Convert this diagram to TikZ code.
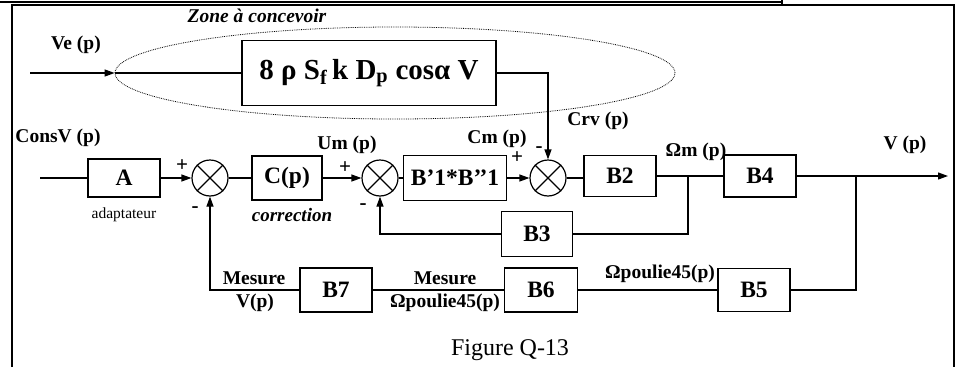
\documentclass[tikz,border=0pt]{standalone}
\usepackage{fontspec}
\setmainfont{Liberation Serif}
\usetikzlibrary{arrows.meta,shapes.geometric}

\begin{document}
\begin{tikzpicture}[x=1pt,y=-1pt,line width=1.2pt,
  blk/.style={draw,minimum width=72pt,minimum height=42pt,inner sep=2pt,
    font=\fontsize{23.5}{26}\selectfont\bfseries},
  sum/.style={draw,circle,minimum size=36pt,inner sep=0pt},
  lbl/.style={font=\fontsize{19.5}{22}\selectfont\bfseries,inner sep=0pt},
  sig/.style={font=\fontsize{21}{21}\selectfont\bfseries,inner sep=0pt},
  arr/.style={-{Triangle[length=10pt,width=7pt]}}]
\useasboundingbox (0,0) rectangle (961,367);
% frame of the table cell
\draw[line width=2pt] (0,2) -- (782,2);
\draw (782,0) -- (782,5);
\draw[line width=1.6pt] (12,367) -- (12,5) -- (954,5) -- (954,367);
% zone to design
\node[font=\fontsize{19.5}{22}\selectfont\bfseries\itshape] at (257,16) {Zone à concevoir};
\node[draw,ellipse,densely dotted,line width=0.8pt,minimum width=560pt,
  minimum height=92pt] (zone) at (395,73) {};
\node[blk,minimum width=254pt,minimum height=65pt,font=\fontsize{29}{32}\selectfont\bfseries]
  (gain) at (369,73) {8 ρ S\textsubscript{f}\,k D\textsubscript{p} cosα V};
\coordinate (vin) at (30,73);
\node[lbl] at (76,45) {Ve (p)};
\draw[arr] (vin) -- (zone.west);
\draw (zone.west) -- (gain.west);
% direct chain
\coordinate (cin) at (40,178);
\node[blk,minimum height=38pt] (a) at (124,178) {A};
\node[sum] (s1) at (210,178) {};
\node[blk,minimum width=70pt,minimum height=44pt] (c) at (287,178) {C(p)};
\node[sum] (s2) at (380,178) {};
\node[blk,minimum width=103pt,minimum height=45pt] (bp) at (455,178) {B’1*B’’1};
\node[sum] (s3) at (548,178) {};
\node[blk,minimum height=41pt] (b2) at (620,176) {B2};
\node[blk] (b4) at (760,176) {B4};
\coordinate (j1) at (688,176);
\coordinate (j2) at (856,176);
\coordinate (vout) at (948,176);
\foreach \s in {s1,s2,s3}
  \draw (\s.45) -- (\s.225) (\s.135) -- (\s.315);
\draw (cin) -- (a);
\draw[arr] (a) -- (s1);
\draw (s1) -- (c);
\draw[arr] (c) -- (s2);
\draw (s2) -- (bp);
\draw[arr] (bp) -- (s3);
\draw (s3.east) -- (b2.west |- s3.east);
\draw (b2) -- (b4);
\draw[arr] (b4) -- (vout);
\draw[arr] (gain.east) -| (s3.north);
% inner loop
\node[blk,minimum width=71pt,minimum height=45pt] (b3) at (537,234) {B3};
\draw (j1) |- (b3.east);
\draw[arr] (b3.west) -| (s2.south);
% outer loop
\node[blk,minimum height=43pt] (b5) at (754,290) {B5};
\node[blk,minimum width=73pt,minimum height=44pt] (b6) at (541,290) {B6};
\node[blk,minimum height=44pt] (b7) at (336,290) {B7};
\draw (j2) |- (b5.east);
\draw (b5) -- (b6);
\draw (b6) -- (b7);
\draw[arr] (b7.west) -| (s1.south);
% labels
\node[lbl] at (58,138) {ConsV (p)};
\node[font=\fontsize{15.5}{17}\selectfont] at (124,215) {adaptateur};
\node[font=\fontsize{19}{21}\selectfont\bfseries\itshape] at (292,215) {correction};
\node[sig] at (182,166) {+};
\node[sig] at (195,210) {-};
\node[lbl] at (347,145) {Um (p)};
\node[sig] at (345,168) {+};
\node[sig] at (363,207) {-};
\node[lbl] at (497,139) {Cm (p)};
\node[sig] at (517,158) {+};
\node[sig] at (539,150) {-};
\node[lbl] at (598,121) {Crv (p)};
\node[lbl] at (696,152) {Ωm (p)};
\node[lbl] at (905,145) {V (p)};
\node[lbl] at (254,278) {Mesure};
\node[lbl] at (255,303) {V(p)};
\node[lbl] at (445,278) {Mesure};
\node[lbl] at (445,303) {Ωpoulie45(p)};
\node[lbl] at (660,274) {Ωpoulie45(p)};
\node[font=\fontsize{24}{26}\selectfont] at (510,350) {Figure Q-13};
\end{tikzpicture}
\end{document}
